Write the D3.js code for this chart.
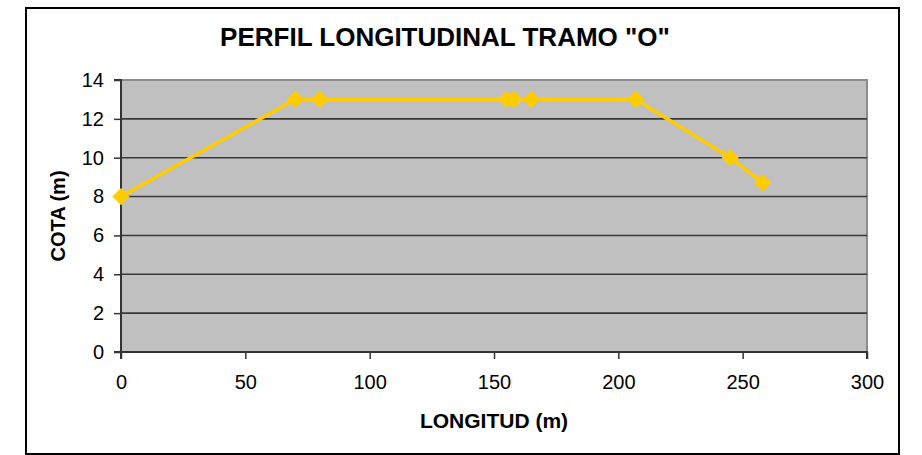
<!DOCTYPE html>
<html>
<head>
<meta charset="utf-8">
<script src="https://cdn.jsdelivr.net/npm/d3@7"></script>
<style>
  body { margin: 0; background: #fff; }
  svg text { font-family: "Liberation Sans", Arial, sans-serif; fill: #000; }
</style>
</head>
<body>
<div id="container"></div>
<script>
// data
const longitud = [0, 70, 80, 155, 158, 165, 207, 245, 258];
const cota = [8, 13, 13, 13, 13, 13, 13, 10, 8.7];
const xTicks = [0, 50, 100, 150, 200, 250, 300];
const yTicks = [0, 2, 4, 6, 8, 10, 12, 14];
const title = 'PERFIL LONGITUDINAL TRAMO "O"';
const xTitle = "LONGITUD (m)";
const yTitle = "COTA (m)";

const w = 922, h = 455;
const plot = {left: 121, right: 867, top: 80, bottom: 352};

let svg = d3.select("#container")
    .append("svg")
    .attr("width", w)
    .attr("height", h);

// outer frame
svg.append("rect")
    .attr("x", 26).attr("y", 8)
    .attr("width", 873).attr("height", 446)
    .attr("fill", "#fff")
    .attr("stroke", "#000")
    .attr("stroke-width", 2);

const x = d3.scaleLinear().domain([0, 300]).range([plot.left, plot.right]);
const y = d3.scaleLinear().domain([0, 14]).range([plot.bottom, plot.top]);

// plot background
svg.append("rect")
    .attr("x", plot.left).attr("y", plot.top)
    .attr("width", plot.right - plot.left)
    .attr("height", plot.bottom - plot.top)
    .attr("fill", "#c0c0c0")
    .attr("stroke", "#8c8c8c")
    .attr("stroke-width", 2);

// gridlines
svg.append("g")
    .selectAll("line")
    .data(yTicks.filter(d => d > 0 && d < 14))
    .enter()
    .append("line")
    .attr("x1", plot.left).attr("x2", plot.right)
    .attr("y1", d => y(d)).attr("y2", d => y(d))
    .attr("stroke", "#3a3a3a")
    .attr("stroke-width", 1.6);

// axes
let yAxis = d3.axisLeft(y).tickValues(yTicks).tickSize(7).tickPadding(10);
let xAxis = d3.axisBottom(x).tickValues(xTicks).tickSize(7).tickPadding(16);

let gy = svg.append("g")
    .attr("transform", "translate(" + plot.left + ",0)")
    .call(yAxis);
let gx = svg.append("g")
    .attr("transform", "translate(0," + plot.bottom + ")")
    .call(xAxis);

[gx, gy].forEach(g => {
    g.select(".domain").attr("stroke", "#333").attr("stroke-width", 2);
    g.selectAll(".tick line").attr("stroke", "#333").attr("stroke-width", 1.5);
    g.selectAll(".tick text")
        .attr("font-size", 20)
        .attr("font-family", "Liberation Sans, Arial, sans-serif")
        .attr("fill", "#000");
});
gy.select(".domain").attr("d", "M-7," + plot.top + "H0V" + plot.bottom + "H-7");
gx.select(".domain").attr("d", "M" + plot.left + ",7V0H" + plot.right + "V7");

// line + markers
const pts = longitud.map((d, i) => [d, cota[i]]);

svg.append("path")
    .datum(pts)
    .attr("fill", "none")
    .attr("stroke", "#ffcc00")
    .attr("stroke-width", 3.5)
    .attr("d", d3.line().x(d => x(d[0])).y(d => y(d[1])));

svg.append("g")
    .selectAll("path")
    .data(pts)
    .enter()
    .append("path")
    .attr("d", d3.symbol().type(d3.symbolSquare).size(150))
    .attr("transform", d => "translate(" + x(d[0]) + "," + y(d[1]) + ") rotate(45)")
    .attr("fill", "#ffcc00");

// titles
svg.append("text")
    .attr("x", 445).attr("y", 46)
    .attr("text-anchor", "middle")
    .attr("font-size", 26)
    .attr("font-weight", "bold")
    .text(title);

svg.append("text")
    .attr("x", (plot.left + plot.right) / 2).attr("y", 428)
    .attr("text-anchor", "middle")
    .attr("font-size", 21)
    .attr("font-weight", "bold")
    .text(xTitle);

svg.append("text")
    .attr("transform", "translate(65," + ((plot.top + plot.bottom) / 2) + ") rotate(-90)")
    .attr("text-anchor", "middle")
    .attr("font-size", 20)
    .attr("font-weight", "bold")
    .text(yTitle);
</script>
</body>
</html>
